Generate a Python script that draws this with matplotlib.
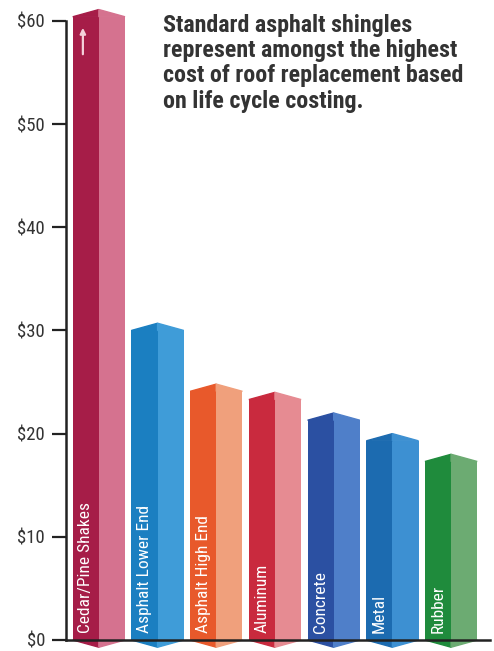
import matplotlib.pyplot as plt
from matplotlib.patches import Polygon

# Стоимость по типу кровли (по оценке с картинки)
materials = ['Cedar/Pine Shakes', 'Asphalt Lower End', 'Asphalt High End',
             'Aluminum', 'Concrete', 'Metal', 'Rubber']
costs = [60.4, 30.0, 24.1, 23.3, 21.3, 19.3, 17.3]
dark_colors = ['#a61d48', '#1b7fc1', '#e8592b', '#c92a3e', '#2b50a2', '#1c6bb0', '#1f8b3c']
light_colors = ['#d5728f', '#3f9cd8', '#f0a07c', '#e68b92', '#4f7fc9', '#3d90d2', '#6cab72']
tick_values = [0, 10, 20, 30, 40, 50, 60]
tick_labels = ['$0', '$10', '$20', '$30', '$40', '$50', '$60']
note = ('Standard asphalt shingles\nrepresent amongst the highest\n'
        'cost of roof replacement based\non life cycle costing.')

narrow = ['Roboto Condensed', 'DejaVu Sans']

fig = plt.figure(figsize=(4.94, 6.51), dpi=100)
ax = fig.add_axes([0.1336, 0.0169, 0.858, 0.951])

width = 0.89
half = width / 2
cap = 0.7
for i, (v, dc, lc) in enumerate(zip(costs, dark_colors, light_colors)):
    ax.bar(i - half / 2, v, width=half, color=dc, clip_on=False, zorder=2)
    ax.bar(i + half / 2, v, width=half, color=lc, clip_on=False, zorder=2)
    # верхушка и низ "призмы"
    ax.add_patch(Polygon([(i - half, v), (i, v + cap), (i, v)], closed=True,
                         color=dc, clip_on=False, zorder=2))
    ax.add_patch(Polygon([(i, v), (i, v + cap), (i + half, v)], closed=True,
                         color=lc, clip_on=False, zorder=2))
    ax.add_patch(Polygon([(i - half, 0), (i, -cap), (i, 0)], closed=True,
                         color=dc, clip_on=False, zorder=1))
    ax.add_patch(Polygon([(i, 0), (i, -cap), (i + half, 0)], closed=True,
                         color=lc, clip_on=False, zorder=1))
    ax.text(i - half / 2, 0.7, materials[i], rotation=90, color='white',
            ha='center', va='bottom', fontsize=12.5, family=narrow, zorder=3)

# стрелка на первом столбце
ax.annotate('', xy=(-half / 2 - 0.05, costs[0] - 0.8), xytext=(-half / 2 - 0.05, costs[0] - 3.9),
            arrowprops=dict(arrowstyle='-|>', color='#f4d0da', lw=1.6, mutation_scale=8),
            zorder=4, annotation_clip=False)

ax.set_xlim(-0.56, 6.66)
ax.set_ylim(0, 60)
ax.set_yticks(tick_values)
ax.set_yticklabels(tick_labels, family=narrow, fontsize=13.5, color='#333333')
ax.tick_params(axis='y', length=10, width=1.6, color='#222222', pad=5)
ax.set_xticks([])
for s in ['top', 'right']:
    ax.spines[s].set_visible(False)
for s in ['left', 'bottom']:
    ax.spines[s].set_linewidth(1.8)
    ax.spines[s].set_color('#222222')

fig.text(0.33, 0.979, note, ha='left', va='top', fontsize=17.3, fontweight='bold',
         family=narrow, color='#333333', linespacing=1.13)

fig.savefig('out.png', dpi=100)
